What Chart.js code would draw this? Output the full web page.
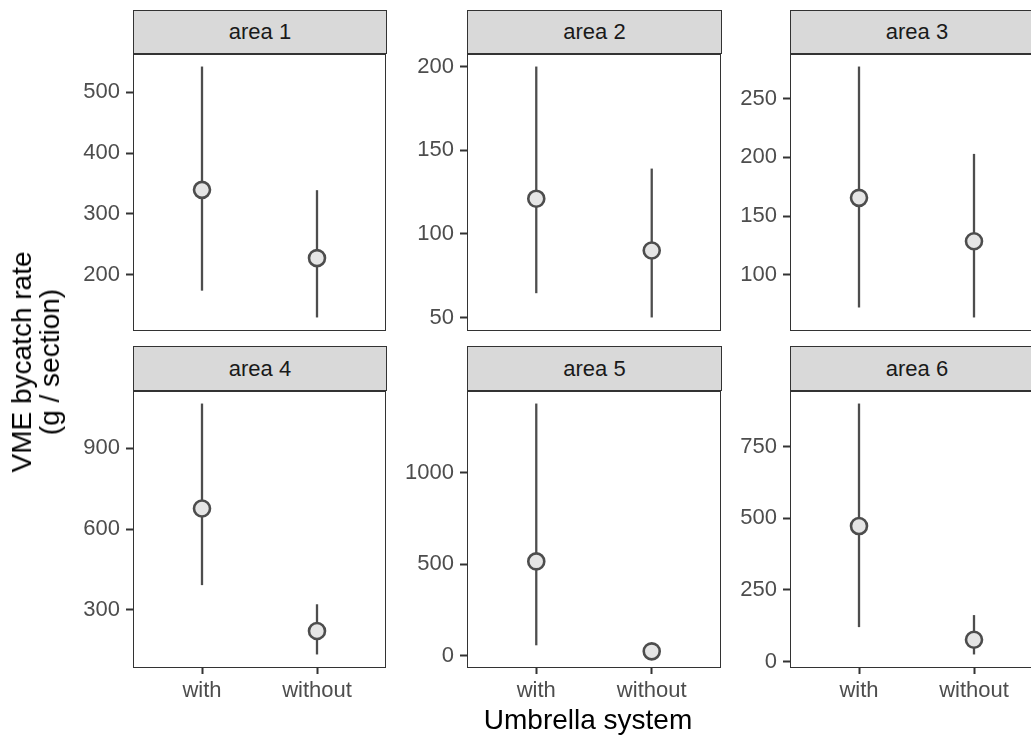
<!DOCTYPE html>
<html>
<head>
<meta charset="utf-8">
<script src="https://cdn.jsdelivr.net/npm/chart.js@4/dist/chart.umd.min.js"></script>
<style>
  body { margin: 0; background: #fff; overflow: hidden; width: 1031px; height: 738px; position: relative;
         font-family: "Liberation Sans", Arial, sans-serif; }
  canvas { position: absolute; }
  .strip { position: absolute; box-sizing: border-box; background: #d9d9d9; border: 1px solid #333;
           color: #1a1a1a; font-size: 22px; text-align: center; }
  .titulo { position: absolute; color: #000; font-size: 28px; white-space: nowrap; }
</style>
</head>
<body>
<script>
// datos
var areas = ["area 1", "area 2", "area 3", "area 4", "area 5", "area 6"];
var grupos = ["with", "without"];
var medias = [[339.5, 227.5], [121, 90], [165.5, 128.5], [676, 222], [515, 24], [473, 76]];
var inferior = [[174, 130], [64.5, 50], [72, 63.5], [392, 135], [57, 7], [120, 24.5]];
var superior = [[542, 339], [200, 139], [277.5, 203], [1065, 321], [1377, 40], [901, 162]];
var ticksY = [[200, 300, 400, 500], [50, 100, 150, 200], [100, 150, 200, 250],
              [300, 600, 900], [0, 500, 1000], [0, 250, 500, 750]];

// posiciones de los paneles en la pagina
var colIzq = [133, 467, 790];
var colDer = [386, 721, 1043];
var stripArriba = [10, 346];
var filaArriba = [54, 391];
var filaAbajo = [330, 667];

var EJE_Y = 70, EJE_X = 50;

// borde del panel (como theme_bw)
var bordePanel = {
    id: "bordePanel",
    afterDatasetsDraw: function(chart) {
        var a = chart.chartArea, ctx = chart.ctx;
        ctx.save();
        ctx.strokeStyle = "#333333";
        ctx.lineWidth = 1;
        ctx.strokeRect(a.left + 0.5, a.top + 0.5, a.right - a.left - 1, a.bottom - a.top);
        ctx.restore();
    }
};

// quita el relleno extra que Chart.js deja para las etiquetas
function sinPadding(scale) {
    scale.paddingTop = 0;
    scale.paddingBottom = 0;
    scale.paddingLeft = 0;
    scale.paddingRight = 0;
}

function dibujarPanel(i) {
    var c = i % 3, f = Math.floor(i / 3);
    var izq = colIzq[c], ancho = colDer[c] - colIzq[c];
    var arriba = filaArriba[f], alto = filaAbajo[f] - filaArriba[f];

    // strip con el nombre del area
    var s = document.createElement("div");
    s.className = "strip";
    s.style.left = izq + "px";
    s.style.top = stripArriba[f] + "px";
    s.style.width = (ancho + 1) + "px";
    s.style.height = (arriba - stripArriba[f]) + "px";
    s.style.lineHeight = (arriba - stripArriba[f] - 2) + "px";
    s.textContent = areas[i];
    document.body.appendChild(s);

    var canvas = document.createElement("canvas");
    canvas.width = ancho + EJE_Y + 3;
    canvas.height = alto + EJE_X + 2;
    canvas.style.left = (izq - EJE_Y) + "px";
    canvas.style.top = (arriba - 2) + "px";
    document.body.appendChild(canvas);

    // rango con expansion de 5% como ggplot
    var lo = Math.min.apply(null, inferior[i]);
    var hi = Math.max.apply(null, superior[i]);
    var ext = (hi - lo) * 0.05;

    var datasets = [];
    datasets.push({
        type: "scatter",
        order: 0,
        data: medias[i].map(function(v, g) { return { x: g + 1, y: v }; }),
        backgroundColor: "#e5e5e5",
        borderColor: "#4d4d4d",
        borderWidth: 2.6,
        pointRadius: 8
    });
    for (var g = 0; g < grupos.length; g++) {
        datasets.push({
            type: "line",
            order: 1,
            data: [{ x: g + 1, y: inferior[i][g] }, { x: g + 1, y: superior[i][g] }],
            borderColor: "#4d4d4d",
            borderWidth: 2.3,
            pointRadius: 0,
            fill: false
        });
    }

    var abajo = f == 1;
    new Chart(canvas, {
        type: "scatter",
        data: { datasets: datasets },
        options: {
            responsive: false,
            animation: false,
            devicePixelRatio: 1,
            layout: { autoPadding: false, padding: { top: 2, right: 3, left: 0, bottom: 0 } },
            plugins: { legend: { display: false }, tooltip: { enabled: false } },
            scales: {
                x: {
                    type: "linear",
                    min: 0.4,
                    max: 2.6,
                    afterBuildTicks: function(scale) {
                        scale.ticks = grupos.map(function(n, g) { return { value: g + 1 }; });
                    },
                    afterFit: function(scale) { scale.height = EJE_X; sinPadding(scale); },
                    border: { display: false },
                    grid: { drawOnChartArea: false, drawTicks: abajo, tickLength: 7, tickWidth: 2, tickColor: "#333333" },
                    ticks: {
                        display: abajo,
                        autoSkip: false,
                        maxRotation: 0,
                        padding: 4,
                        color: "#4d4d4d",
                        font: { family: "Liberation Sans", size: 22 },
                        callback: function(v) { return grupos[v - 1]; }
                    }
                },
                y: {
                    min: lo - ext,
                    max: hi + ext,
                    afterBuildTicks: function(scale) {
                        scale.ticks = ticksY[i].map(function(v) { return { value: v }; });
                    },
                    afterFit: function(scale) { scale.width = EJE_Y; sinPadding(scale); },
                    border: { display: false },
                    grid: { drawOnChartArea: false, tickLength: 7, tickWidth: 2, tickColor: "#333333" },
                    ticks: {
                        autoSkip: false,
                        padding: 6,
                        color: "#4d4d4d",
                        font: { family: "Liberation Sans", size: 22 },
                        callback: function(v) { return v; }
                    }
                }
            }
        },
        plugins: [bordePanel]
    });
}

for (var i = 0; i < areas.length; i++) {
    dibujarPanel(i);
}

// titulos de los ejes
var tx = document.createElement("div");
tx.className = "titulo";
tx.textContent = "Umbrella system";
tx.style.left = "588px";
tx.style.top = "720px";
tx.style.transform = "translate(-50%, -50%)";
document.body.appendChild(tx);

var ty = document.createElement("div");
ty.className = "titulo";
ty.innerHTML = "VME bycatch rate<br>(g / section)";
ty.style.textAlign = "center";
ty.style.lineHeight = "28px";
ty.style.left = "36px";
ty.style.top = "362px";
ty.style.transform = "translate(-50%, -50%) rotate(-90deg)";
document.body.appendChild(ty);
</script>
</body>
</html>
